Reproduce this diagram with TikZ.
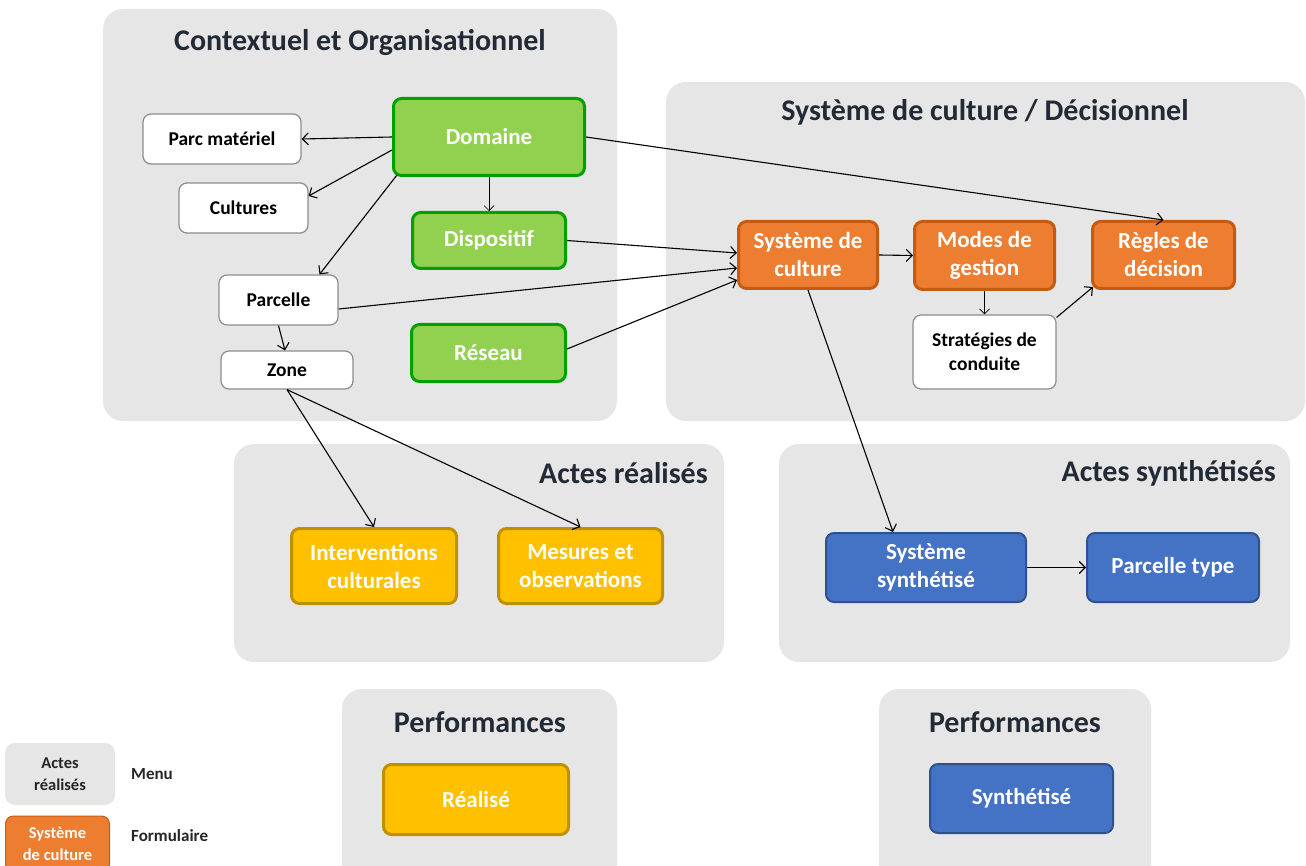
\documentclass[tikz,border=0pt]{standalone}
\usepackage{fontspec}
\setmainfont{Carlito}
\usetikzlibrary{arrows.meta,calc}
\definecolor{panelc}{HTML}{E7E6E6}
\definecolor{titlec}{HTML}{222A35}
\definecolor{gfill}{HTML}{92D050}
\definecolor{gdraw}{HTML}{00A000}
\definecolor{ofill}{HTML}{ED7D31}
\definecolor{odraw}{HTML}{C55A11}
\definecolor{yfill}{HTML}{FFC000}
\definecolor{ydraw}{HTML}{BF9000}
\definecolor{bfill}{HTML}{4472C4}
\definecolor{bdraw}{HTML}{2F528F}
\definecolor{wdraw}{HTML}{8C8C8C}
\begin{document}
\begin{tikzpicture}[x=1pt,y=-1pt,
  panelbox/.style={fill=panelc, rounded corners=20pt},
  ptitle/.style={font=\fontsize{30}{36}\selectfont\bfseries, text=titlec, inner sep=0pt},
  base/.style={rounded corners=8pt, align=center, inner sep=0pt, font=\fontsize{23}{28}\selectfont\bfseries},
  gbox/.style={base, fill=gfill, draw=gdraw, line width=3pt, text=white},
  obox/.style={base, fill=ofill, draw=odraw, line width=3pt, text=white},
  ybox/.style={base, fill=yfill, draw=ydraw, line width=3pt, text=white},
  bbox/.style={base, fill=bfill, draw=bdraw, line width=2pt, text=white},
  wbox/.style={base, fill=white, draw=wdraw, line width=1.2pt, text=black, font=\fontsize{19.5}{24}\selectfont\bfseries},
  legtext/.style={font=\fontsize{17}{22}\selectfont\bfseries, text=black!85, inner sep=0pt, anchor=west},
  arr/.style={-{Straight Barb[length=6pt,width=12pt]}, line width=1.1pt, black},
  thinarr/.style={-{Straight Barb[length=5pt,width=10pt]}, line width=0.7pt, black}
]
\clip (0,0) rectangle (1306,866);
\fill[white] (0,0) rectangle (1306,866);

% panels
\fill[panelbox] (103,9) rectangle (617,421);
\fill[panelbox] (666,82) rectangle (1305,421);
\fill[panelbox] (234,444) rectangle (724,662);
\fill[panelbox] (779,444) rectangle (1290,662);
\fill[panelbox] (342,689) rectangle (617,900);
\fill[panelbox] (879,689) rectangle (1151,900);

% titles
\node[ptitle] (t1) at (360,42) {Contextuel et Organisationnel};
\node[ptitle] (t2) at (985,112) {Système de culture / Décisionnel};
\node[ptitle, anchor=east] (t3) at (708,473) {Actes réalisés};
\node[ptitle, anchor=east] (t4) at (1276,473) {Actes synthétisés};
\node[ptitle] (t5) at (480,722) {Performances};
\node[ptitle] (t6) at (1015,722) {Performances};

% white boxes
\node[wbox, minimum width=158pt, minimum height=50pt] (parc) at (222,139) {Parc matériel};
\node[wbox, minimum width=129pt, minimum height=50pt] (cult) at (243.5,208) {Cultures};
\node[wbox, minimum width=119pt, minimum height=50pt] (parcelle) at (278.5,300) {Parcelle};
\node[wbox, minimum width=132pt, minimum height=38pt] (zone) at (287,370) {Zone};
\node[wbox, minimum width=143pt, minimum height=74pt] (strat) at (984.5,352) {Stratégies de\\conduite};

% green
\node[gbox, minimum width=191pt, minimum height=77pt] (dom) at (489,137) {Domaine};
\node[gbox, minimum width=153pt, minimum height=56pt] (disp) at (489,240.5) {Dispositif};
\node[gbox, minimum width=154pt, minimum height=57pt] (res) at (488.5,353) {Réseau};

% orange
\node[obox, minimum width=139pt, minimum height=67pt] (sdc) at (808,255) {Système de\\culture};
\node[obox, minimum width=140pt, minimum height=68pt] (mg) at (984.5,255.5) {Modes de\\gestion};
\node[obox, minimum width=142pt, minimum height=67pt] (regles) at (1163.5,255) {Règles de\\décision};

% yellow
\node[ybox, minimum width=165pt, minimum height=75pt] (interv) at (374,566) {Interventions\\culturales};
\node[ybox, minimum width=164pt, minimum height=75pt] (mes) at (580.5,566) {Mesures et\\observations};
\node[ybox, minimum width=185pt, minimum height=70pt] (real) at (476,799.5) {Réalisé};

% blue
\node[bbox, minimum width=200pt, minimum height=69pt] (syn) at (926,567.5) {Système\\synthétisé};
\node[bbox, minimum width=172pt, minimum height=69pt] (pt) at (1173,567.5) {Parcelle type};
\node[bbox, minimum width=183pt, minimum height=69pt] (synt) at (1021.5,798.5) {Synthétisé};

% legend
\node[base, fill=panelc, rounded corners=10pt, minimum width=110pt, minimum height=62pt, text=black!85, font=\fontsize{16.5}{22}\selectfont\bfseries] (lg1) at (60,774) {Actes\\réalisés};
\node[base, fill=ofill, draw=odraw, line width=1pt, rounded corners=8pt, minimum width=104pt, minimum height=56pt, text=white, font=\fontsize{16.5}{22}\selectfont\bfseries] (lg2) at (57.5,844) {Système\\de culture};
\node[legtext] (lt1) at (131,774) {Menu};
\node[legtext] (lt2) at (131,836) {Formulaire};

% arrows
\draw[arr] (dom.west) -- (parc.east);
\draw[arr] ($(dom.west)+(0,13)$) -- ($(cult.east)+(0,-12)$);
\draw[arr] ($(dom.south west)+(5,-2)$) -- ($(parcelle.north)+(41,0)$);
\draw[thinarr] (dom.south) -- (disp.north);
\draw[arr] (dom.east) -- (regles.north);
\draw[arr] (disp.east) -- ($(sdc.west)+(0,-2)$);
\draw[arr] ($(parcelle.east)+(0,9)$) -- ($(sdc.west)+(0,13)$);
\draw[arr] ($(res.east)+(0,-4)$) -- ($(sdc.west)+(0,25)$);
\draw[arr] (parcelle.south) -- ($(zone.north)+(-2,0)$);
\draw[arr] (zone.south) -- (interv.north);
\draw[arr] (zone.south) -- (mes.north);
\draw[arr] (sdc.south) -- ($(syn.north)+(-33,0)$);
\draw[arr] (sdc.east) -- (mg.west);
\draw[thinarr] (mg.south) -- (strat.north);
\draw[arr] ($(strat.north east)+(0,3)$) -- ($(regles.south west)+(2,-3)$);
\draw[arr] (syn.east) -- (pt.west);
\end{tikzpicture}
\end{document}
